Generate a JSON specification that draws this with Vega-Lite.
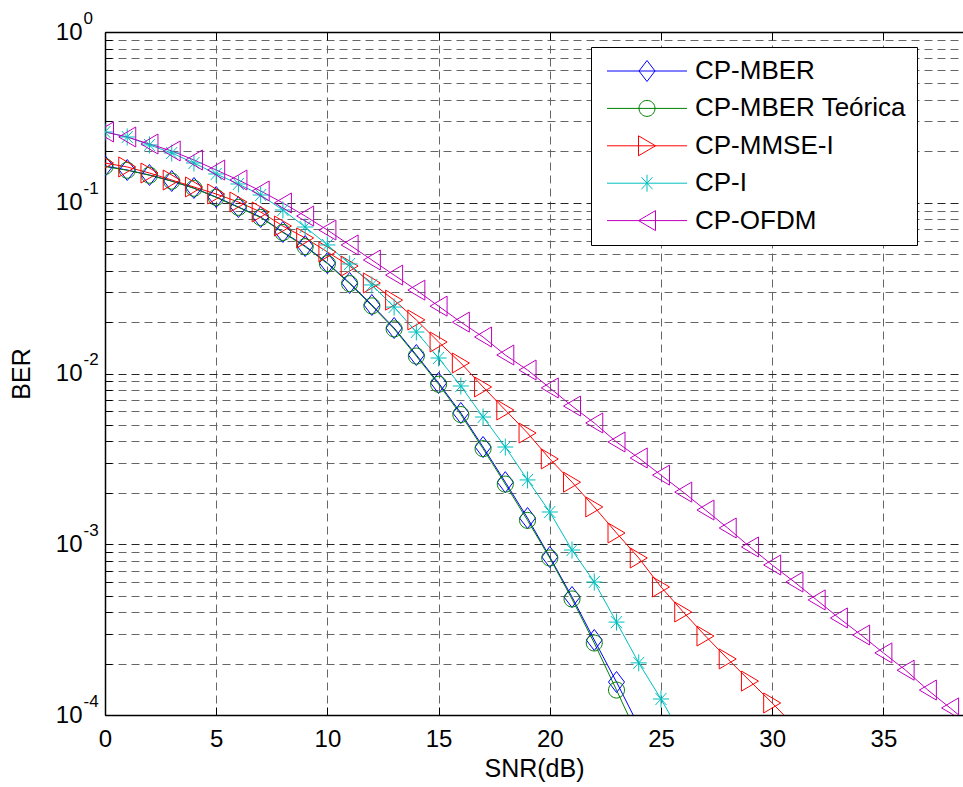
{
  "$schema": "https://vega.github.io/schema/vega-lite/v6.json",
  "width": 858,
  "height": 683,
  "autosize": {"type": "none"},
  "padding": {"left": 105, "top": 32, "right": 0, "bottom": 72},
  "background": "white",
  "config": {
    "view": {"stroke": null},
    "font": "Liberation Sans",
    "axis": {"labelFont": "Liberation Sans", "titleFont": "Liberation Sans", "labelColor": "black", "titleColor": "black"},
    "legend": {"labelFont": "Liberation Sans"}
  },
  "data": {"values": [
    {"series": "CP-MBER", "snr": 0, "ber": 0.1642},
    {"series": "CP-MBER", "snr": 1, "ber": 0.1555},
    {"series": "CP-MBER", "snr": 2, "ber": 0.1454},
    {"series": "CP-MBER", "snr": 3, "ber": 0.1341},
    {"series": "CP-MBER", "snr": 4, "ber": 0.1220},
    {"series": "CP-MBER", "snr": 5, "ber": 0.1080},
    {"series": "CP-MBER", "snr": 6, "ber": 0.0944},
    {"series": "CP-MBER", "snr": 7, "ber": 0.0825},
    {"series": "CP-MBER", "snr": 8, "ber": 0.0674},
    {"series": "CP-MBER", "snr": 9, "ber": 0.0558},
    {"series": "CP-MBER", "snr": 10, "ber": 0.0444},
    {"series": "CP-MBER", "snr": 11, "ber": 0.0339},
    {"series": "CP-MBER", "snr": 12, "ber": 0.0252},
    {"series": "CP-MBER", "snr": 13, "ber": 0.01847},
    {"series": "CP-MBER", "snr": 14, "ber": 0.01283},
    {"series": "CP-MBER", "snr": 15, "ber": 0.00880},
    {"series": "CP-MBER", "snr": 16, "ber": 0.00587},
    {"series": "CP-MBER", "snr": 17, "ber": 0.00371},
    {"series": "CP-MBER", "snr": 18, "ber": 0.00231},
    {"series": "CP-MBER", "snr": 19, "ber": 0.001424},
    {"series": "CP-MBER", "snr": 20, "ber": 0.000842},
    {"series": "CP-MBER", "snr": 21, "ber": 0.000491},
    {"series": "CP-MBER", "snr": 22, "ber": 0.000275},
    {"series": "CP-MBER", "snr": 23, "ber": 0.000156},
    {"series": "CP-MBER", "snr": 24, "ber": 0.0000862},
    {"series": "CP-MBER Teórica", "snr": 0, "ber": 0.1630},
    {"series": "CP-MBER Teórica", "snr": 1, "ber": 0.1550},
    {"series": "CP-MBER Teórica", "snr": 2, "ber": 0.1450},
    {"series": "CP-MBER Teórica", "snr": 3, "ber": 0.1338},
    {"series": "CP-MBER Teórica", "snr": 4, "ber": 0.1215},
    {"series": "CP-MBER Teórica", "snr": 5, "ber": 0.1075},
    {"series": "CP-MBER Teórica", "snr": 6, "ber": 0.0940},
    {"series": "CP-MBER Teórica", "snr": 7, "ber": 0.0820},
    {"series": "CP-MBER Teórica", "snr": 8, "ber": 0.0670},
    {"series": "CP-MBER Teórica", "snr": 9, "ber": 0.0553},
    {"series": "CP-MBER Teórica", "snr": 10, "ber": 0.0440},
    {"series": "CP-MBER Teórica", "snr": 11, "ber": 0.0336},
    {"series": "CP-MBER Teórica", "snr": 12, "ber": 0.0249},
    {"series": "CP-MBER Teórica", "snr": 13, "ber": 0.01825},
    {"series": "CP-MBER Teórica", "snr": 14, "ber": 0.01265},
    {"series": "CP-MBER Teórica", "snr": 15, "ber": 0.00865},
    {"series": "CP-MBER Teórica", "snr": 16, "ber": 0.00575},
    {"series": "CP-MBER Teórica", "snr": 17, "ber": 0.00363},
    {"series": "CP-MBER Teórica", "snr": 18, "ber": 0.00225},
    {"series": "CP-MBER Teórica", "snr": 19, "ber": 0.001380},
    {"series": "CP-MBER Teórica", "snr": 20, "ber": 0.000831},
    {"series": "CP-MBER Teórica", "snr": 21, "ber": 0.000478},
    {"series": "CP-MBER Teórica", "snr": 22, "ber": 0.000264},
    {"series": "CP-MBER Teórica", "snr": 23, "ber": 0.000140},
    {"series": "CP-MBER Teórica", "snr": 24, "ber": 0.0000733},
    {"series": "CP-MMSE-I", "snr": 0, "ber": 0.1709},
    {"series": "CP-MMSE-I", "snr": 1, "ber": 0.1620},
    {"series": "CP-MMSE-I", "snr": 2, "ber": 0.1493},
    {"series": "CP-MMSE-I", "snr": 3, "ber": 0.1359},
    {"series": "CP-MMSE-I", "snr": 4, "ber": 0.1237},
    {"series": "CP-MMSE-I", "snr": 5, "ber": 0.1125},
    {"series": "CP-MMSE-I", "snr": 6, "ber": 0.1010},
    {"series": "CP-MMSE-I", "snr": 7, "ber": 0.0883},
    {"series": "CP-MMSE-I", "snr": 8, "ber": 0.0731},
    {"series": "CP-MMSE-I", "snr": 9, "ber": 0.0622},
    {"series": "CP-MMSE-I", "snr": 10, "ber": 0.0515},
    {"series": "CP-MMSE-I", "snr": 11, "ber": 0.0426},
    {"series": "CP-MMSE-I", "snr": 12, "ber": 0.0339},
    {"series": "CP-MMSE-I", "snr": 13, "ber": 0.0269},
    {"series": "CP-MMSE-I", "snr": 14, "ber": 0.0206},
    {"series": "CP-MMSE-I", "snr": 15, "ber": 0.01529},
    {"series": "CP-MMSE-I", "snr": 16, "ber": 0.01152},
    {"series": "CP-MMSE-I", "snr": 17, "ber": 0.00834},
    {"series": "CP-MMSE-I", "snr": 18, "ber": 0.00611},
    {"series": "CP-MMSE-I", "snr": 19, "ber": 0.00448},
    {"series": "CP-MMSE-I", "snr": 20, "ber": 0.00316},
    {"series": "CP-MMSE-I", "snr": 21, "ber": 0.00231},
    {"series": "CP-MMSE-I", "snr": 22, "ber": 0.001653},
    {"series": "CP-MMSE-I", "snr": 23, "ber": 0.001164},
    {"series": "CP-MMSE-I", "snr": 24, "ber": 0.000831},
    {"series": "CP-MMSE-I", "snr": 25, "ber": 0.000562},
    {"series": "CP-MMSE-I", "snr": 26, "ber": 0.000401},
    {"series": "CP-MMSE-I", "snr": 27, "ber": 0.000290},
    {"series": "CP-MMSE-I", "snr": 28, "ber": 0.000213},
    {"series": "CP-MMSE-I", "snr": 29, "ber": 0.000158},
    {"series": "CP-MMSE-I", "snr": 30, "ber": 0.0001176},
    {"series": "CP-MMSE-I", "snr": 31, "ber": 0.0000862},
    {"series": "CP-I", "snr": 0, "ber": 0.2597},
    {"series": "CP-I", "snr": 1, "ber": 0.2427},
    {"series": "CP-I", "snr": 2, "ber": 0.2180},
    {"series": "CP-I", "snr": 3, "ber": 0.1956},
    {"series": "CP-I", "snr": 4, "ber": 0.1709},
    {"series": "CP-I", "snr": 5, "ber": 0.1474},
    {"series": "CP-I", "snr": 6, "ber": 0.1288},
    {"series": "CP-I", "snr": 7, "ber": 0.1110},
    {"series": "CP-I", "snr": 8, "ber": 0.0907},
    {"series": "CP-I", "snr": 9, "ber": 0.0721},
    {"series": "CP-I", "snr": 10, "ber": 0.0566},
    {"series": "CP-I", "snr": 11, "ber": 0.0438},
    {"series": "CP-I", "snr": 12, "ber": 0.0330},
    {"series": "CP-I", "snr": 13, "ber": 0.0245},
    {"series": "CP-I", "snr": 14, "ber": 0.01750},
    {"series": "CP-I", "snr": 15, "ber": 0.01232},
    {"series": "CP-I", "snr": 16, "ber": 0.00845},
    {"series": "CP-I", "snr": 17, "ber": 0.00556},
    {"series": "CP-I", "snr": 18, "ber": 0.00371},
    {"series": "CP-I", "snr": 19, "ber": 0.00238},
    {"series": "CP-I", "snr": 20, "ber": 0.001545},
    {"series": "CP-I", "snr": 21, "ber": 0.000925},
    {"series": "CP-I", "snr": 22, "ber": 0.000601},
    {"series": "CP-I", "snr": 23, "ber": 0.000350},
    {"series": "CP-I", "snr": 24, "ber": 0.000202},
    {"series": "CP-I", "snr": 25, "ber": 0.0001241},
    {"series": "CP-I", "snr": 26, "ber": 0.0000733},
    {"series": "CP-OFDM", "snr": 0, "ber": 0.2597},
    {"series": "CP-OFDM", "snr": 1, "ber": 0.2427},
    {"series": "CP-OFDM", "snr": 2, "ber": 0.2208},
    {"series": "CP-OFDM", "snr": 3, "ber": 0.2010},
    {"series": "CP-OFDM", "snr": 4, "ber": 0.1780},
    {"series": "CP-OFDM", "snr": 5, "ber": 0.1555},
    {"series": "CP-OFDM", "snr": 6, "ber": 0.1359},
    {"series": "CP-OFDM", "snr": 7, "ber": 0.1172},
    {"series": "CP-OFDM", "snr": 8, "ber": 0.0997},
    {"series": "CP-OFDM", "snr": 9, "ber": 0.0836},
    {"series": "CP-OFDM", "snr": 10, "ber": 0.0692},
    {"series": "CP-OFDM", "snr": 11, "ber": 0.0566},
    {"series": "CP-OFDM", "snr": 12, "ber": 0.0462},
    {"series": "CP-OFDM", "snr": 13, "ber": 0.0377},
    {"series": "CP-OFDM", "snr": 14, "ber": 0.0308},
    {"series": "CP-OFDM", "snr": 15, "ber": 0.0248},
    {"series": "CP-OFDM", "snr": 16, "ber": 0.0200},
    {"series": "CP-OFDM", "snr": 17, "ber": 0.01636},
    {"series": "CP-OFDM", "snr": 18, "ber": 0.01283},
    {"series": "CP-OFDM", "snr": 19, "ber": 0.01048},
    {"series": "CP-OFDM", "snr": 20, "ber": 0.00823},
    {"series": "CP-OFDM", "snr": 21, "ber": 0.00645},
    {"series": "CP-OFDM", "snr": 22, "ber": 0.00513},
    {"series": "CP-OFDM", "snr": 23, "ber": 0.00397},
    {"series": "CP-OFDM", "snr": 24, "ber": 0.00320},
    {"series": "CP-OFDM", "snr": 25, "ber": 0.00254},
    {"series": "CP-OFDM", "snr": 26, "ber": 0.00202},
    {"series": "CP-OFDM", "snr": 27, "ber": 0.001587},
    {"series": "CP-OFDM", "snr": 28, "ber": 0.001245},
    {"series": "CP-OFDM", "snr": 29, "ber": 0.000964},
    {"series": "CP-OFDM", "snr": 30, "ber": 0.000756},
    {"series": "CP-OFDM", "snr": 31, "ber": 0.000601},
    {"series": "CP-OFDM", "snr": 32, "ber": 0.000472},
    {"series": "CP-OFDM", "snr": 33, "ber": 0.000370},
    {"series": "CP-OFDM", "snr": 34, "ber": 0.000294},
    {"series": "CP-OFDM", "snr": 35, "ber": 0.000231},
    {"series": "CP-OFDM", "snr": 36, "ber": 0.000183},
    {"series": "CP-OFDM", "snr": 37, "ber": 0.000140},
    {"series": "CP-OFDM", "snr": 38, "ber": 0.000110},
    {"series": "CP-OFDM", "snr": 39, "ber": 0.0000862}
  ]},
  "encoding": {
    "color": {
      "field": "series", "type": "nominal",
      "scale": {
        "domain": ["CP-MBER", "CP-MBER Teórica", "CP-MMSE-I", "CP-I", "CP-OFDM"],
        "range": ["#0000ff", "#008000", "#ff0000", "#00bfbf", "#bf00bf"]
      },
      "legend": {
        "orient": "none", "legendX": 486, "legendY": 15, "title": null,
        "padding": 11, "strokeColor": "black", "fillColor": "white",
        "labelFontSize": 26, "labelFont": "Liberation Sans", "labelColor": "black", "labelLimit": 600,
        "symbolSize": 400, "symbolOffset": 32, "labelOffset": 35, "rowPadding": 11.4,
        "symbolStrokeWidth": 1,
        "encode": {"symbols": {"update": {
          "shape": {"signal": "datum.value === 'CP-MBER' ? 'M-4,0L4,0M0,-1.05L0.8,0L0,1.05L-0.8,0Z' : datum.value === 'CP-MBER Teórica' ? 'M-4,0L4,0M0.8,0A0.8,0.8,0,1,1,-0.8,0A0.8,0.8,0,1,1,0.8,0Z' : datum.value === 'CP-MMSE-I' ? 'M-4,0L4,0M-0.85,-1L0.85,0L-0.85,1Z' : datum.value === 'CP-I' ? 'M-4,0L4,0M0,-0.85L0,0.85M-0.55,-0.6L0.55,0.6M-0.55,0.6L0.55,-0.6' : 'M-4,0L4,0M0.85,-1L-0.85,0L0.85,1Z'"},
          "size": {"value": 400},
          "fill": {"value": "transparent"},
          "strokeWidth": {"value": 1},
          "opacity": {"value": 1}
        }}}
      }
    }
  },
  "layer": [
    {
      "mark": {"type": "line", "strokeWidth": 1, "clip": true},
      "encoding": {
        "x": {
          "field": "snr", "type": "quantitative",
          "scale": {"domain": [0, 38.58], "nice": false, "zero": false},
          "axis": {
            "values": [0, 5, 10, 15, 20, 25, 30, 35],
            "grid": true, "gridDash": [8, 5], "gridColor": "#666666", "gridWidth": 1,
            "domainColor": "black", "domainWidth": 1.5,
            "ticks": true, "tickColor": "black", "tickSize": -8, "tickWidth": 1,
            "labelPadding": 20, "labelFontSize": 24, "labelFlush": false, "labelOverlap": false,
            "title": "SNR(dB)", "titleFontSize": 25, "titleFontWeight": "normal", "titlePadding": 5
          }
        },
        "y": {
          "field": "ber", "type": "quantitative",
          "scale": {"type": "log", "domain": [0.0001, 1], "nice": false},
          "axis": {
            "values": [0.0001, 0.0002, 0.0003, 0.0004, 0.0005, 0.0006, 0.0007, 0.0008, 0.0009, 0.001, 0.002, 0.003, 0.004, 0.005, 0.006, 0.007, 0.008, 0.009, 0.01, 0.02, 0.03, 0.04, 0.05, 0.06, 0.07, 0.08, 0.09, 0.1, 0.2, 0.3, 0.4, 0.5, 0.6, 0.7, 0.8, 0.9, 1],
            "grid": true, "gridDash": [8, 5], "gridWidth": 1,
            "gridColor": {"condition": {"test": "abs(log(datum.value)/LN10 - round(log(datum.value)/LN10)) < 0.000001", "value": "#262626"}, "value": "#666666"},
            "domainColor": "black", "domainWidth": 1.5,
            "ticks": true, "tickColor": "black", "tickSize": -7, "tickWidth": 1,
            "labelPadding": 30, "labelFontSize": 24, "labelAlign": "right", "labelBaseline": "middle",
            "labelFlush": false, "labelOverlap": false,
            "labelExpr": "abs(log(datum.value)/LN10 - round(log(datum.value)/LN10)) < 0.000001 ? '10' : ''",
            "title": "BER", "titleFontSize": 25, "titleFontWeight": "normal", "titlePadding": 21
          }
        },
        "detail": {"field": "series", "type": "nominal"}
      }
    },
    {
      "transform": [{"filter": {"field": "series", "equal": "CP-MBER"}}],
      "mark": {"type": "point", "shape": "M0,-1.05L0.8,0L0,1.05L-0.8,0Z", "filled": false, "size": 400, "strokeWidth": 1, "opacity": 1, "clip": true},
      "encoding": {
        "x": {
          "field": "snr", "type": "quantitative",
          "scale": {"domain": [0, 38.58], "nice": false, "zero": false},
          "axis": {
            "orient": "top", "values": [5, 10, 15, 20, 25, 30, 35],
            "labels": false, "grid": false, "title": null,
            "domain": true, "domainColor": "black", "domainWidth": 1.5,
            "ticks": true, "tickColor": "black", "tickSize": -8, "tickWidth": 1
          }
        },
        "y": {
          "field": "ber", "type": "quantitative",
          "scale": {"type": "log", "domain": [0.0001, 1], "nice": false},
          "axis": {
            "orient": "left", "values": [0.0001, 0.001, 0.01, 0.1, 1],
            "grid": false, "ticks": false, "domain": false, "title": null,
            "labelPadding": 22, "labelAlign": "left", "labelBaseline": "middle", "labelOffset": -14,
            "labelFontSize": 17, "labelFlush": false, "labelOverlap": false,
            "labelExpr": "'' + round(log(datum.value)/LN10)"
          }
        }
      }
    },
    {
      "transform": [{"filter": {"field": "series", "equal": "CP-MBER Teórica"}}],
      "mark": {"type": "point", "shape": "M0.8,0A0.8,0.8,0,1,1,-0.8,0A0.8,0.8,0,1,1,0.8,0Z", "filled": false, "size": 400, "strokeWidth": 1, "opacity": 1, "clip": true},
      "encoding": {
        "x": {"field": "snr", "type": "quantitative", "axis": null},
        "y": {"field": "ber", "type": "quantitative", "scale": {"type": "log"}, "axis": null}
      }
    },
    {
      "transform": [{"filter": {"field": "series", "equal": "CP-MMSE-I"}}],
      "mark": {"type": "point", "shape": "M-0.85,-1L0.85,0L-0.85,1Z", "filled": false, "size": 400, "strokeWidth": 1, "opacity": 1, "clip": true},
      "encoding": {
        "x": {"field": "snr", "type": "quantitative", "axis": null},
        "y": {"field": "ber", "type": "quantitative", "scale": {"type": "log"}, "axis": null}
      }
    },
    {
      "transform": [{"filter": {"field": "series", "equal": "CP-I"}}],
      "mark": {"type": "point", "shape": "M-0.8,0L0.8,0M0,-0.85L0,0.85M-0.55,-0.6L0.55,0.6M-0.55,0.6L0.55,-0.6", "filled": false, "size": 400, "strokeWidth": 1, "opacity": 1, "clip": true},
      "encoding": {
        "x": {"field": "snr", "type": "quantitative", "axis": null},
        "y": {"field": "ber", "type": "quantitative", "scale": {"type": "log"}, "axis": null}
      }
    },
    {
      "transform": [{"filter": {"field": "series", "equal": "CP-OFDM"}}],
      "mark": {"type": "point", "shape": "M0.85,-1L-0.85,0L0.85,1Z", "filled": false, "size": 400, "strokeWidth": 1, "opacity": 1, "clip": true},
      "encoding": {
        "x": {"field": "snr", "type": "quantitative", "axis": null},
        "y": {"field": "ber", "type": "quantitative", "scale": {"type": "log"}, "axis": null}
      }
    }
  ],
  "resolve": {"axis": {"x": "independent", "y": "independent"}}
}
